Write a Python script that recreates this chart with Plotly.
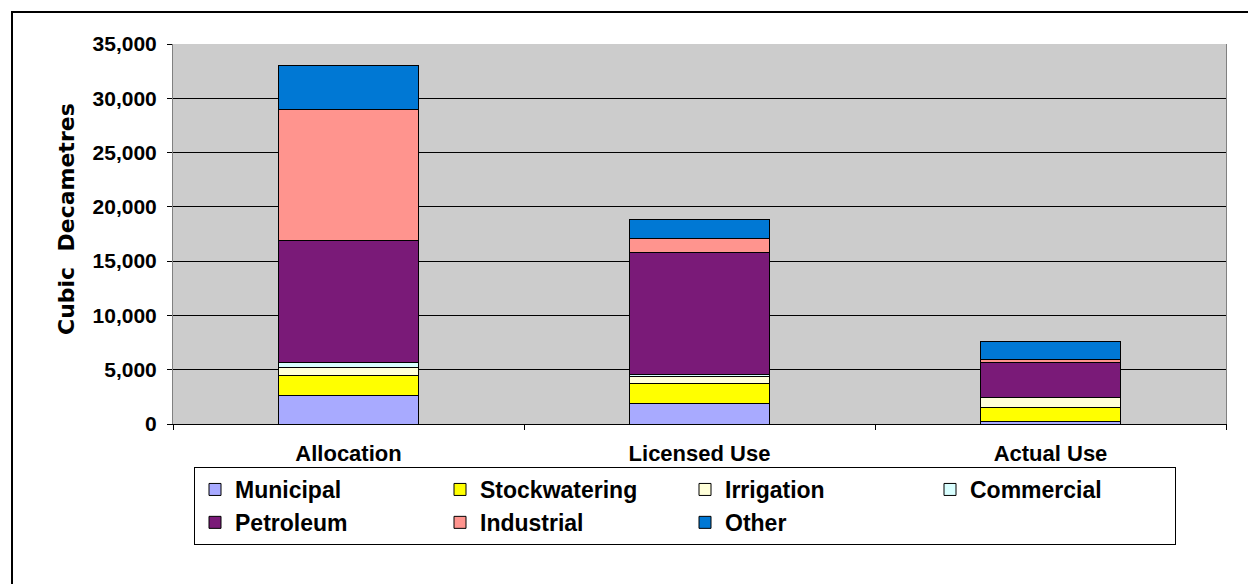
import plotly.graph_objects as go

# Water use by purpose (cubic decametres)
categories = ["Allocation", "Licensed Use", "Actual Use"]

municipal = [2600, 1900, 250]
stockwatering = [1900, 1800, 1250]
irrigation = [700, 700, 900]
commercial = [500, 200, 30]
petroleum = [11200, 11200, 3200]
industrial = [12100, 1300, 300]
other = [4000, 1700, 1700]

series = [
    ("Municipal", municipal, "#A8AAFF"),
    ("Stockwatering", stockwatering, "#FFFF00"),
    ("Irrigation", irrigation, "#FFFFD9"),
    ("Commercial", commercial, "#D9FFFF"),
    ("Petroleum", petroleum, "#7A1A78"),
    ("Industrial", industrial, "#FF948E"),
    ("Other", other, "#0078D4"),
]

FONT = "Liberation Sans, Arial, sans-serif"

fig = go.Figure()
for name, vals, color in series:
    fig.add_trace(go.Bar(
        x=categories, y=vals, name=name,
        marker=dict(color=color, line=dict(color="#000000", width=1)),
    ))

W, H = 1248, 584
L, R, T, B = 173, 22, 44, 160
pw, ph = W - L - R, H - T - B

def px_x(p):
    return (p - L) / pw

def px_y(p):
    return (H - B - p) / ph

fig.update_layout(
    width=W, height=H,
    margin=dict(l=L, r=R, t=T, b=B, autoexpand=False),
    barmode="stack",
    bargap=0.6,
    paper_bgcolor="#FFFFFF",
    plot_bgcolor="#CCCCCC",
    font=dict(family=FONT, color="#000000"),
    legend=dict(
        orientation="h",
        x=px_x(194), xanchor="left",
        y=px_y(467), yanchor="top",
        bordercolor="#000000", borderwidth=1,
        bgcolor="#FFFFFF",
        entrywidth=200,
        traceorder="normal",
        font=dict(family=FONT, size=23, weight="bold"),
    ),
    shapes=[
        # outer chart frame
        dict(type="rect", xref="paper", yref="paper",
             x0=px_x(12), x1=px_x(1270), y0=px_y(12), y1=px_y(620),
             line=dict(color="#000000", width=2), fillcolor="rgba(0,0,0,0)",
             layer="below"),
    ],
    annotations=[
        # value axis title
        dict(text="Cubic  Decametres", textangle=-90,
             xref="paper", yref="paper", x=px_x(66), y=px_y(219),
             xanchor="center", yanchor="middle", showarrow=False,
             font=dict(family="DejaVu Sans, sans-serif", size=22, weight="bold")),
    ],
)

fig.update_yaxes(
    range=[0, 35000], dtick=5000, tickformat=",d",
    showgrid=True, gridcolor="#000000", gridwidth=1,
    showline=True, linecolor="#808080", linewidth=1, mirror=True,
    ticks="outside", ticklen=5, tickcolor="#000000",
    ticklabelstandoff=6,
    tickfont=dict(family=FONT, size=21, weight="bold"),
    zeroline=False,
)
fig.update_xaxes(
    showline=True, linecolor="#000000", linewidth=1,
    ticks="outside", ticklen=5, tickcolor="#000000", tickson="boundaries",
    ticklabelstandoff=10,
    tickfont=dict(family=FONT, size=22, weight="bold"),
    showgrid=False,
)

fig.write_html("out.html")
